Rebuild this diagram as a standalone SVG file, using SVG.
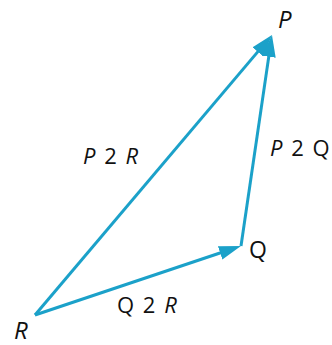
<svg xmlns="http://www.w3.org/2000/svg" width="332" height="345" viewBox="0 0 332 345">
<style>
.edge{stroke:#1ba1c9;stroke-width:3;fill:none;marker-end:url(#ah)}
text{font-family:"Open Sans","Liberation Sans",sans-serif;fill:#111}
.it{font-style:italic}
.lbl{font-size:22px;letter-spacing:1.5px}
</style>
<defs>
<marker id="ah" markerUnits="userSpaceOnUse" markerWidth="24" markerHeight="16" refX="14" refY="7" orient="auto">
<path d="M0,0 L22,7 L0,14 z" fill="#1ba1c9"/>
</marker>
</defs>
<rect width="332" height="345" fill="#fff"/>
<g id="connectors">
<line class="edge" x1="35" y1="315" x2="266.8" y2="41.1"/>
<line class="edge" x1="241" y1="246" x2="270.8" y2="42.9"/>
<line class="edge" x1="35" y1="315" x2="233.4" y2="248.5"/>
</g>
<g id="node-P"><text x="278" y="28" font-size="24" class="it">P</text></g>
<g id="node-Q"><text x="249" y="258" font-size="23">Q</text></g>
<g id="node-R"><text x="14" y="339" font-size="24" class="it">R</text></g>
<g id="label-PR"><text x="83" y="164" class="lbl"><tspan class="it">P</tspan> 2 <tspan class="it">R</tspan></text></g>
<g id="label-PQ"><text x="270" y="156" class="lbl"><tspan class="it">P</tspan> 2 Q</text></g>
<g id="label-QR"><text x="117" y="313" class="lbl">Q 2 <tspan class="it">R</tspan></text></g>
</svg>
